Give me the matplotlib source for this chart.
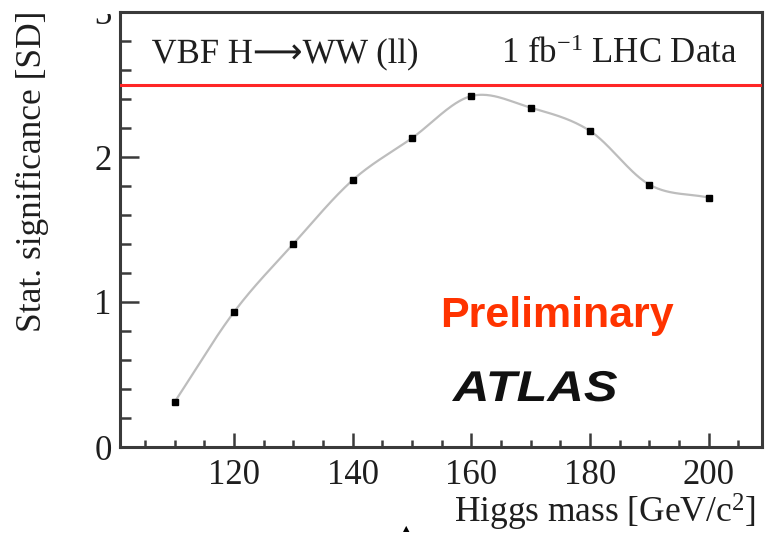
import numpy as np
import matplotlib
matplotlib.use("Agg")
import matplotlib.pyplot as plt
from matplotlib.ticker import MultipleLocator, FixedLocator
from matplotlib.textpath import TextPath
from matplotlib.patches import PathPatch
from matplotlib.font_manager import FontProperties
from matplotlib.transforms import Affine2D, Bbox, TransformedBbox

# Higgs mass points [GeV/c^2] and expected statistical significance [SD]
higgs_mass = [110, 120, 130, 140, 150, 160, 170, 180, 190, 200]
significance = [0.31, 0.93, 1.40, 1.84, 2.13, 2.42, 2.34, 2.18, 1.81, 1.72]
reference_level = 2.5

x_ticks = [120, 140, 160, 180, 200]
y_ticks = [0, 1, 2, 3]

SERIF = ["Liberation Serif", "DejaVu Sans"]
SANS = ["Liberation Sans", "DejaVu Sans"]
TEXT_COLOR = "#1e1e1e"
FRAME_COLOR = "#3a3a3a"
W, H = 767, 534

plt.rcParams["mathtext.fontset"] = "custom"
plt.rcParams["mathtext.rm"] = "Liberation Serif"
plt.rcParams["mathtext.it"] = "Liberation Serif:italic"


def smooth_curve(x, y, xs):
    """Cubic Hermite (Catmull-Rom style) curve through (x, y) at xs."""
    x = np.asarray(x, float)
    y = np.asarray(y, float)
    n = len(x)
    d = np.empty(n)
    d[1:-1] = (y[2:] - y[:-2]) / (x[2:] - x[:-2])
    d[0] = (y[1] - y[0]) / (x[1] - x[0])
    d[-1] = (y[-1] - y[-2]) / (x[-1] - x[-2])
    idx = np.clip(np.searchsorted(x, xs) - 1, 0, n - 2)
    h = x[idx + 1] - x[idx]
    t = (xs - x[idx]) / h
    h00 = 2 * t ** 3 - 3 * t ** 2 + 1
    h10 = t ** 3 - 2 * t ** 2 + t
    h01 = -2 * t ** 3 + 3 * t ** 2
    h11 = t ** 3 - t ** 2
    return (h00 * y[idx] + h10 * h * d[idx]
            + h01 * y[idx + 1] + h11 * h * d[idx + 1])


def px(xp, yp):
    """Figure fraction from pixel position measured from the top-left."""
    return xp / W, 1 - yp / H


def fitted_text(text, prop, left, baseline, width, color):
    """Draw text as a path, stretched horizontally to a given pixel width."""
    path = TextPath((0, 0), text, prop=prop)
    ext = path.get_extents()
    scale = 100 / 72
    sx = width / (ext.width * scale)
    tf = Affine2D().translate(-ext.x0, 0).scale(sx * scale, scale) \
        .translate(left, H - baseline)
    fig.add_artist(PathPatch(path, transform=tf, facecolor=color,
                             edgecolor="none"))


fig = plt.figure(figsize=(W / 100, H / 100), dpi=100)
ax = fig.add_axes([120 / W, 1 - 447 / H, 642 / W, 435 / H])

xs = np.linspace(higgs_mass[0], higgs_mass[-1], 400)
ax.plot(xs, smooth_curve(higgs_mass, significance, xs),
        color="#bdbdbd", lw=1.6, zorder=2)
ax.plot(higgs_mass, significance, ls="none", marker="s", ms=4.2,
        color="black", zorder=3)

ax.axhline(reference_level, color="#ff2626", lw=2.2, zorder=4)

ax.set_xlim(100.8, 209)
ax.set_ylim(0, 3)

ax.xaxis.set_major_locator(FixedLocator(x_ticks))
ax.xaxis.set_minor_locator(MultipleLocator(5))
ax.yaxis.set_major_locator(FixedLocator(y_ticks))
ax.yaxis.set_minor_locator(MultipleLocator(0.2))

for side in ["left", "bottom", "right", "top"]:
    ax.spines[side].set_color(FRAME_COLOR)
    ax.spines[side].set_linewidth(2.2)

ax.tick_params(axis="y", which="major", direction="in", length=14, width=1.8,
               color=FRAME_COLOR, pad=6, labelsize=25, labelcolor=TEXT_COLOR)
ax.tick_params(axis="y", which="minor", direction="in", length=8, width=1.8,
               color=FRAME_COLOR)
ax.tick_params(axis="x", which="major", direction="in", length=10, width=1.8,
               color=FRAME_COLOR, pad=9, labelsize=25, labelcolor=TEXT_COLOR)
ax.tick_params(axis="x", which="minor", direction="in", length=5, width=1.8,
               color=FRAME_COLOR)
ax.tick_params(top=False, right=False, which="both")
for tick in ax.xaxis.get_major_ticks() + ax.yaxis.get_major_ticks():
    tick.label1.set_family(SERIF)

# the top label sits partly above the drawing area and is cut there
top_label = ax.yaxis.get_major_ticks()[-1].label1
top_label.set_clip_on(True)
top_label.set_clip_box(TransformedBbox(Bbox([[0, 0], [1, 1 - 14 / H]]),
                                       fig.transFigure))

# axis titles
fig.text(*px(756, 523), "Higgs mass [GeV/c$^{2}$]", ha="right",
         va="baseline", fontsize=25.5, family=SERIF, color=TEXT_COLOR)
fig.text(*px(32, 11), "Stat. significance [SD]", ha="center",
         va="top", rotation=90, fontsize=25.5, family=SERIF, color=TEXT_COLOR)

# header texts
serif_prop = FontProperties(family=SERIF, size=25.5)
fitted_text("VBF H\u27f6WW (ll)", serif_prop, 152, 63, 265, TEXT_COLOR)
fig.text(*px(737, 63), "1 fb$^{\\mathrm{-1}}$ LHC Data", ha="right",
         va="baseline", fontsize=25, family=SERIF, color=TEXT_COLOR)

fig.text(*px(557, 327), "Preliminary", ha="center", va="baseline",
         fontsize=31, fontweight="bold", family=SANS, color="#ff3300")

# experiment name, slightly widened lettering
atlas_prop = FontProperties(family=SANS, weight="bold", style="italic",
                            size=31)
fitted_text("ATLAS", atlas_prop, 452, 401, 165, "#111111")

# small pointer glyph at the lower edge
fig.text(*px(406, 529), "\u25b2", ha="center", va="center", fontsize=6,
         family="DejaVu Sans", color="black")

fig.savefig("out.png", dpi=100)
